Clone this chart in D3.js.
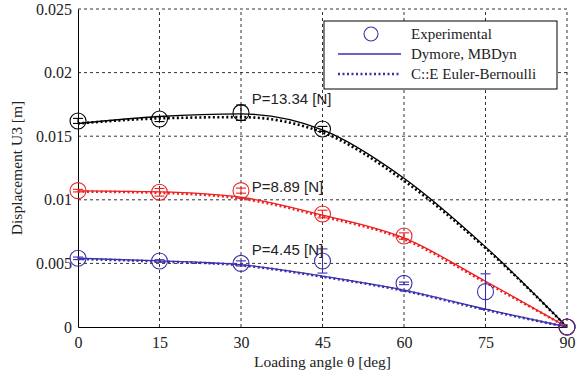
<!DOCTYPE html>
<html>
<head>
<meta charset="utf-8">
<script src="https://cdn.jsdelivr.net/npm/d3@7"></script>
<style>
  body { margin: 0; background: #fff; }
  svg { display: block; }
  .tick text { font-family: "Liberation Serif", "Times New Roman", serif; font-size: 16px; fill: #222; }
</style>
</head>
<body>
<div id="chart"></div>
<script>

// Loading angles (deg) and tick labels.
const angles = [0, 15, 30, 45, 60, 75, 90];
const yTicks = [0, 0.005, 0.01, 0.015, 0.02, 0.025];

// Dymore / MBDyn curves.
const dymore1334 = [0.0160, 0.01655, 0.01675, 0.0155, 0.0117, 0.0063, 0];
const dymore889 = [0.0107, 0.01062, 0.0102, 0.0088, 0.0070, 0.0036, 0];
const dymore445 = [0.0054, 0.0052, 0.0049, 0.0040, 0.0029, 0.0014, 0];

// C::E Euler-Bernoulli curves.
const eb1334 = [0.0160, 0.0164, 0.0165, 0.0153, 0.0115, 0.0062, 0];
const eb889 = [0.01065, 0.01055, 0.0101, 0.0087, 0.0069, 0.0035, 0];
const eb445 = [0.00535, 0.00515, 0.00485, 0.00395, 0.00285, 0.00135, 0];

// Experimental points and error half-widths.
const expAngles1334 = [0, 15, 30, 45, 90];
const exp1334 = [0.0162, 0.01635, 0.01685, 0.01557, 0];
const err1334 = [0.0002, 0.0002, 0.0006, 0.0002, 0];

const expAngles889 = [0, 15, 30, 45, 60, 90];
const exp889 = [0.01072, 0.01059, 0.01072, 0.00888, 0.00715, 0];
const err889 = [0.0001, 0.0003, 0.0002, 0.0003, 0.00025, 0];

const expAngles445 = [0, 15, 30, 45, 60, 75, 90];
const exp445 = [0.0054, 0.00519, 0.0050, 0.00519, 0.00343, 0.00278, 0];
const err445 = [0.0001, 0.0001, 0.0002, 0.00095, 0.0001, 0.0014, 0];

const loadLabels = ['P=13.34 [N]', 'P=8.89 [N]', 'P=4.45 [N]'];
const labelAt = [[32, 0.01753], [32, 0.01064], [32, 0.00566]];

const width = 578, height = 377;
const margin = { top: 9, right: 11, bottom: 50, left: 78 };

const colors = ['#000000', '#ee2020', '#3a30ac'];

const series = [
  { dymore: dymore1334, eb: eb1334, ea: expAngles1334, ev: exp1334, ee: err1334 },
  { dymore: dymore889, eb: eb889, ea: expAngles889, ev: exp889, ee: err889 },
  { dymore: dymore445, eb: eb445, ea: expAngles445, ev: exp445, ee: err445 }
];

const svg = d3.select('#chart').append('svg')
  .attr('width', width)
  .attr('height', height);

const x = d3.scaleLinear().domain([0, 90]).range([margin.left, width - margin.right]);
const y = d3.scaleLinear().domain([0, 0.025]).range([height - margin.bottom, margin.top]);

// Grid.
const grid = svg.append('g').attr('stroke', '#333').attr('stroke-width', 1).attr('stroke-dasharray', '3,3');
grid.selectAll('line.gx').data(angles.slice(1)).join('line')
  .attr('x1', d => x(d)).attr('x2', d => x(d))
  .attr('y1', y(0)).attr('y2', y(0.025));
grid.selectAll('line.gy').data(yTicks.slice(1)).join('line')
  .attr('x1', x(0)).attr('x2', x(90))
  .attr('y1', d => y(d)).attr('y2', d => y(d));

// Axes.
const xAxis = svg.append('g')
  .attr('transform', `translate(0,${y(0)})`)
  .call(d3.axisBottom(x).tickValues(angles).tickSize(0).tickPadding(10).tickFormat(d3.format('d')));
xAxis.select('.domain').attr('stroke', '#000');

const yAxis = svg.append('g')
  .attr('transform', `translate(${x(0)},0)`)
  .call(d3.axisLeft(y).tickValues(yTicks).tickSize(0).tickPadding(6).tickFormat(d => d === 0 ? '0' : String(+d.toFixed(3))));
yAxis.select('.domain').attr('stroke', '#000');

// Axis titles.
svg.append('text')
  .attr('x', (x(0) + x(90)) / 2).attr('y', 367)
  .attr('text-anchor', 'middle')
  .style('font-family', '"Liberation Serif", "Times New Roman", serif')
  .style('font-size', '15.5px').attr('fill', '#222')
  .text('Loading angle θ [deg]');

svg.append('text')
  .attr('transform', `translate(22,${(y(0) + y(0.025)) / 2}) rotate(-90)`)
  .attr('text-anchor', 'middle')
  .style('font-family', '"Liberation Serif", "Times New Roman", serif')
  .style('font-size', '15.5px').attr('fill', '#222')
  .text('Displacement U3 [m]');

const line = d3.line()
  .x((d, i) => x(angles[i]))
  .y(d => y(d))
  .curve(d3.curveMonotoneX);

// Curves, then markers.
series.forEach((s, k) => {
  svg.append('path').datum(s.dymore)
    .attr('d', line).attr('fill', 'none')
    .attr('stroke', colors[k]).attr('stroke-width', 1.3);
  svg.append('path').datum(s.eb)
    .attr('d', line).attr('fill', 'none')
    .attr('stroke', colors[k]).attr('stroke-width', 2.6)
    .attr('stroke-dasharray', '2,2.5');
});

series.forEach((s, k) => {
  const g = svg.append('g').attr('stroke', colors[k]).attr('fill', 'none').attr('stroke-width', 1.1);
  const pts = s.ea.map((a, i) => ({ a: a, v: s.ev[i], e: s.ee[i] }));
  pts.filter(p => p.e > 0).forEach(p => {
    g.append('line').attr('x1', x(p.a)).attr('x2', x(p.a)).attr('y1', y(p.v - p.e)).attr('y2', y(p.v + p.e));
    [p.v - p.e, p.v + p.e].forEach(v => {
      g.append('line').attr('x1', x(p.a) - 5).attr('x2', x(p.a) + 5).attr('y1', y(v)).attr('y2', y(v));
    });
  });
  g.selectAll('circle').data(pts).join('circle')
    .attr('cx', p => x(p.a)).attr('cy', p => y(p.v)).attr('r', 8);
});

// Load annotations.
loadLabels.forEach((t, k) => {
  svg.append('text')
    .attr('x', x(labelAt[k][0])).attr('y', y(labelAt[k][1]))
    .style('font-family', '"Liberation Sans", Arial, sans-serif')
    .style('font-size', '15px').attr('fill', '#222')
    .text(t);
});

// Legend.
const legend = svg.append('g').attr('transform', 'translate(324,21)');
legend.append('rect')
  .attr('width', 233).attr('height', 68)
  .attr('fill', '#fff').attr('stroke', '#000').attr('stroke-width', 1);

const legendItems = ['Experimental', 'Dymore, MBDyn', 'C::E Euler-Bernoulli'];
legendItems.forEach((t, i) => {
  const ly = 13 + i * 20;
  if (i === 0) {
    legend.append('circle').attr('cx', 47).attr('cy', ly).attr('r', 7)
      .attr('fill', 'none').attr('stroke', colors[2]).attr('stroke-width', 1.1);
  } else {
    legend.append('line').attr('x1', 14).attr('x2', 77).attr('y1', ly).attr('y2', ly)
      .attr('stroke', colors[2])
      .attr('stroke-width', i === 1 ? 1.3 : 2.6)
      .attr('stroke-dasharray', i === 1 ? null : '2,2.5');
  }
  legend.append('text')
    .attr('x', 87).attr('y', ly + 5)
    .style('font-family', '"Liberation Serif", "Times New Roman", serif')
    .style('font-size', '15px').attr('fill', '#222')
    .text(t);
});

</script>
</body>
</html>
